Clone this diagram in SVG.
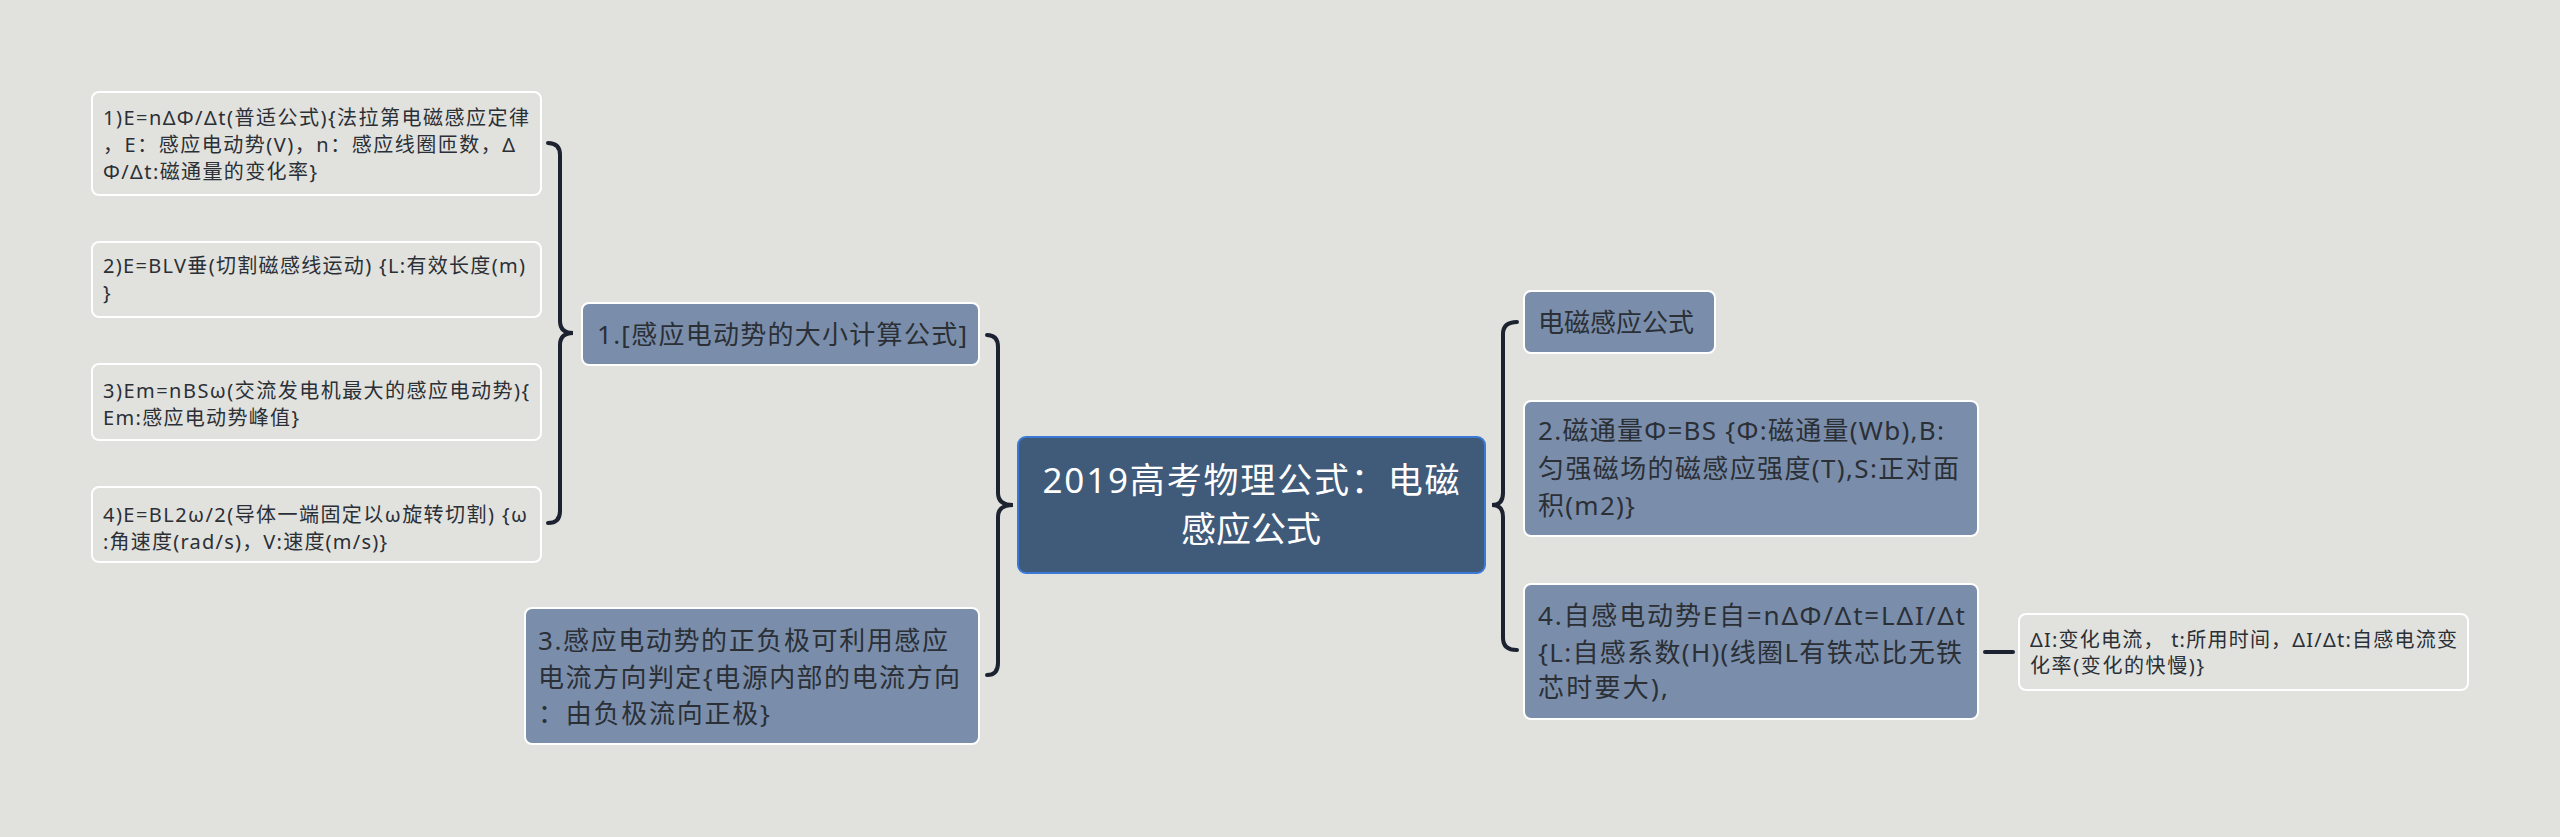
<svg xmlns="http://www.w3.org/2000/svg" width="2560" height="837" viewBox="0 0 2560 837">
<style>
text{font-family:"Noto Sans","Noto Sans CJK SC",sans-serif;fill:#2b2f36}
.leaf rect{fill:#e1e2de;stroke:#ffffff;stroke-width:2}
.leaf text{font-size:20px}
.mid rect{fill:#7a8eab;stroke:#ffffff;stroke-width:2}
.mid text{font-size:26px}
.root rect{fill:#405a7a;stroke:#3a7ad6;stroke-width:2}
.root text{font-size:35px;fill:#ffffff}
.conn path{fill:none;stroke:#1c2230;stroke-width:4;stroke-linecap:round}
</style>
<rect x="0" y="0" width="2560" height="837" fill="#e1e2de"/>
<g class="conn" id="connectors">
<path d="M548,143 Q560,143 560,155 L560,321 Q560,333 573,333 Q560,333 560,345 L560,511 Q560,523 548,523"/>
<path d="M987,335 Q998,335 998,347 L998,493 Q998,505 1013,505 Q998,505 998,517 L998,663 Q998,675 987,675"/>
<path d="M1517,322 Q1503,322 1503,334 L1503,493 Q1503,505 1492,505 Q1503,505 1503,517 L1503,638 Q1503,650 1517,650"/>
<path d="M1985,652 L2013,652"/>
</g>
<g class="root" id="root">
<rect x="1018" y="437" width="467" height="136" rx="8"/>
<text x="1251" y="493" text-anchor="middle" textLength="417">2019高考物理公式：电磁</text>
<text x="1251" y="542" text-anchor="middle">感应公式</text>
</g>
<g class="mid" id="n1">
<rect x="582" y="303" width="397" height="62" rx="7"/>
<text x="597" y="344" textLength="370">1.[感应电动势的大小计算公式]</text>
</g>
<g class="mid" id="n3">
<rect x="525" y="608" width="454" height="136" rx="7"/>
<text x="538" y="650" textLength="410">3.感应电动势的正负极可利用感应</text>
<text x="538" y="687" textLength="422">电流方向判定{电源内部的电流方向</text>
<text x="538" y="723" textLength="232">：由负极流向正极}</text>
</g>
<g class="mid" id="n0">
<rect x="1524" y="291" width="191" height="62" rx="7"/>
<text x="1538" y="332">电磁感应公式</text>
</g>
<g class="mid" id="n2">
<rect x="1524" y="401" width="454" height="135" rx="7"/>
<text x="1538" y="440" textLength="406">2.磁通量Φ=BS {Φ:磁通量(Wb),B:</text>
<text x="1538" y="478" textLength="421">匀强磁场的磁感应强度(T),S:正对面</text>
<text x="1538" y="515" textLength="97">积(m2)}</text>
</g>
<g class="mid" id="n4">
<rect x="1524" y="584" width="454" height="135" rx="7"/>
<text x="1538" y="625" textLength="427">4.自感电动势E自=nΔΦ/Δt=LΔI/Δt</text>
<text x="1538" y="662" textLength="424">{L:自感系数(H)(线圈L有铁芯比无铁</text>
<text x="1538" y="697" textLength="130">芯时要大),</text>
</g>
<g class="leaf" id="l1">
<rect x="92" y="92" width="449" height="103" rx="7"/>
<text x="103" y="125" textLength="426">1)E=nΔΦ/Δt(普适公式){法拉第电磁感应定律</text>
<text x="103" y="152" textLength="412">，E：感应电动势(V)，n：感应线圈匝数，Δ</text>
<text x="103" y="179" textLength="214">Φ/Δt:磁通量的变化率}</text>
</g>
<g class="leaf" id="l2">
<rect x="92" y="242" width="449" height="75" rx="7"/>
<text x="103" y="273" textLength="422">2)E=BLV垂(切割磁感线运动) {L:有效长度(m)</text>
<text x="103" y="300">}</text>
</g>
<g class="leaf" id="l3">
<rect x="92" y="364" width="449" height="76" rx="7"/>
<text x="103" y="398" textLength="426">3)Em=nBSω(交流发电机最大的感应电动势){</text>
<text x="103" y="425" textLength="196">Em:感应电动势峰值}</text>
</g>
<g class="leaf" id="l4">
<rect x="92" y="487" width="449" height="75" rx="7"/>
<text x="103" y="522" textLength="424">4)E=BL2ω/2(导体一端固定以ω旋转切割) {ω</text>
<text x="103" y="549" textLength="284">:角速度(rad/s)，V:速度(m/s)}</text>
</g>
<g class="leaf" id="l5">
<rect x="2019" y="614" width="449" height="76" rx="7"/>
<text x="2030" y="647" textLength="427">ΔI:变化电流， t:所用时间，ΔI/Δt:自感电流变</text>
<text x="2030" y="673" textLength="174">化率(变化的快慢)}</text>
</g>
</svg>
